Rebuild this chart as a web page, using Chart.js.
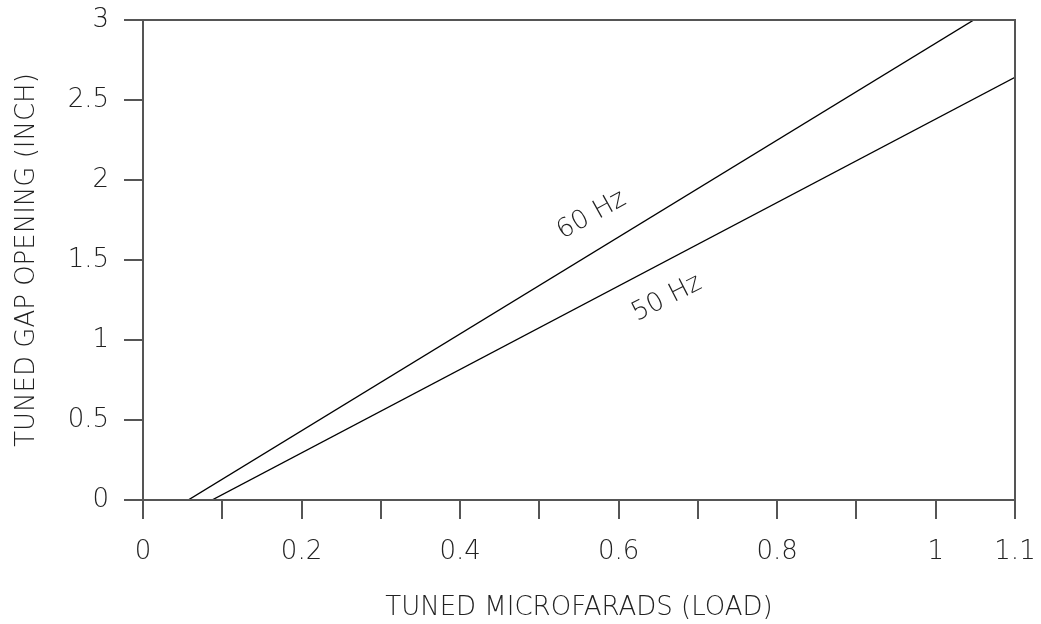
<!DOCTYPE html>
<html>
<head>
<meta charset="utf-8">
<script src="https://cdn.jsdelivr.net/npm/chart.js@4.4.1/dist/chart.umd.min.js"></script>
<style>
  html, body { margin: 0; padding: 0; background: #fff; }
  #wrap { width: 1041px; height: 624px; }
</style>
</head>
<body>
<div id="wrap"><canvas id="c" width="1041" height="624"></canvas></div>
<script>
// ---- data ----
const xTickValues = [0, 0.1, 0.2, 0.3, 0.4, 0.5, 0.6, 0.7, 0.8, 0.9, 1.0, 1.1];
const xTickLabels = ['0', '', '0.2', '', '0.4', '', '0.6', '', '0.8', '', '1', '1.1'];
const yTickValues = [0, 0.5, 1, 1.5, 2, 2.5, 3];
const yTickLabels = ['0', '0.5', '1', '1.5', '2', '2.5', '3'];
const seriesNames = ['60 Hz', '50 Hz'];
const hz60X = [0.057, 1.048];
const hz60Y = [0, 3];
const hz50X = [0.087, 1.1];
const hz50Y = [0, 2.642];
const seriesLabelX = [0.566, 0.661];
const seriesLabelY = [1.78, 1.26];
const xTitle = 'TUNED MICROFARADS (LOAD)';
const yTitle = 'TUNED GAP OPENING (INCH)';

const FONT = "'DejaVu Sans', sans-serif";
const TXT = '#222';
const AX = '#555';

function pts(xs, ys) { return xs.map((x, i) => ({ x: x, y: ys[i] })); }

const seriesLabelPlugin = {
  id: 'seriesLabels',
  afterDatasetsDraw(chart, args, opts) {
    const ctx = chart.ctx, xs = chart.scales.x, ys = chart.scales.y;
    ctx.save();
    ctx.fillStyle = TXT;
    ctx.font = opts.font;
    ctx.textAlign = 'center';
    ctx.textBaseline = 'middle';
    seriesNames.forEach((name, i) => {
      const px = xs.getPixelForValue(seriesLabelX[i]);
      const py = ys.getPixelForValue(seriesLabelY[i]);
      ctx.save();
      ctx.translate(px, py);
      ctx.rotate(opts.angles[i] * Math.PI / 180);
      ctx.fillText(name, 0, 0);
      ctx.restore();
    });
    ctx.restore();
  }
};

const framePlugin = {
  id: 'frame',
  afterDraw(chart) {
    const a = chart.chartArea, ctx = chart.ctx;
    ctx.save();
    ctx.strokeStyle = AX;
    ctx.lineWidth = 2;
    ctx.strokeRect(a.left, a.top, a.right - a.left, a.bottom - a.top);
    ctx.restore();
  }
};

new Chart(document.getElementById('c'), {
  type: 'scatter',
  data: {
    datasets: [
      { label: seriesNames[0], data: pts(hz60X, hz60Y), showLine: true, borderColor: '#000', borderWidth: 1.4, pointRadius: 0, fill: false },
      { label: seriesNames[1], data: pts(hz50X, hz50Y), showLine: true, borderColor: '#000', borderWidth: 1.4, pointRadius: 0, fill: false }
    ]
  },
  options: {
    responsive: false,
    animation: false,
    layout: { padding: { top: 20, right: 26, left: 0, bottom: 0 } },
    plugins: {
      legend: { display: false },
      tooltip: { enabled: false },
      seriesLabels: { font: "200 26px " + FONT, angles: [-29, -27] }
    },
    scales: {
      x: {
        type: 'linear', min: 0, max: 1.1,
        afterBuildTicks: s => { s.ticks = xTickValues.map(v => ({ value: v })); },
        afterFit: s => { s.height = 124; s.paddingLeft = 0; s.paddingRight = 0; },
        ticks: {
          autoSkip: false, maxRotation: 0, padding: 18, color: TXT,
          font: { family: FONT, size: 26, weight: 200 },
          callback: (v, i) => xTickLabels[i]
        },
        grid: { drawOnChartArea: false, drawTicks: true, tickLength: 19, color: AX, lineWidth: 2 },
        border: { display: true, color: AX, width: 2 },
        title: { display: true, text: xTitle, color: TXT, font: { family: FONT, size: 26, weight: 200 }, padding: { top: 0, bottom: 0 } }
      },
      y: {
        type: 'linear', min: 0, max: 3,
        afterBuildTicks: s => { s.ticks = yTickValues.map(v => ({ value: v })); },
        afterFit: s => { s.width = 143; s.paddingTop = 0; s.paddingBottom = 0; },
        ticks: {
          padding: 15, color: TXT,
          font: { family: FONT, size: 26, weight: 200 },
          callback: (v, i) => yTickLabels[i]
        },
        grid: { drawOnChartArea: false, drawTicks: true, tickLength: 19, color: AX, lineWidth: 2 },
        border: { display: true, color: AX, width: 2 },
        title: { display: true, text: yTitle, color: TXT, font: { family: FONT, size: 26, weight: 200 }, padding: { top: 12, bottom: 0 } }
      }
    }
  },
  plugins: [seriesLabelPlugin, framePlugin]
});
</script>
</body>
</html>
